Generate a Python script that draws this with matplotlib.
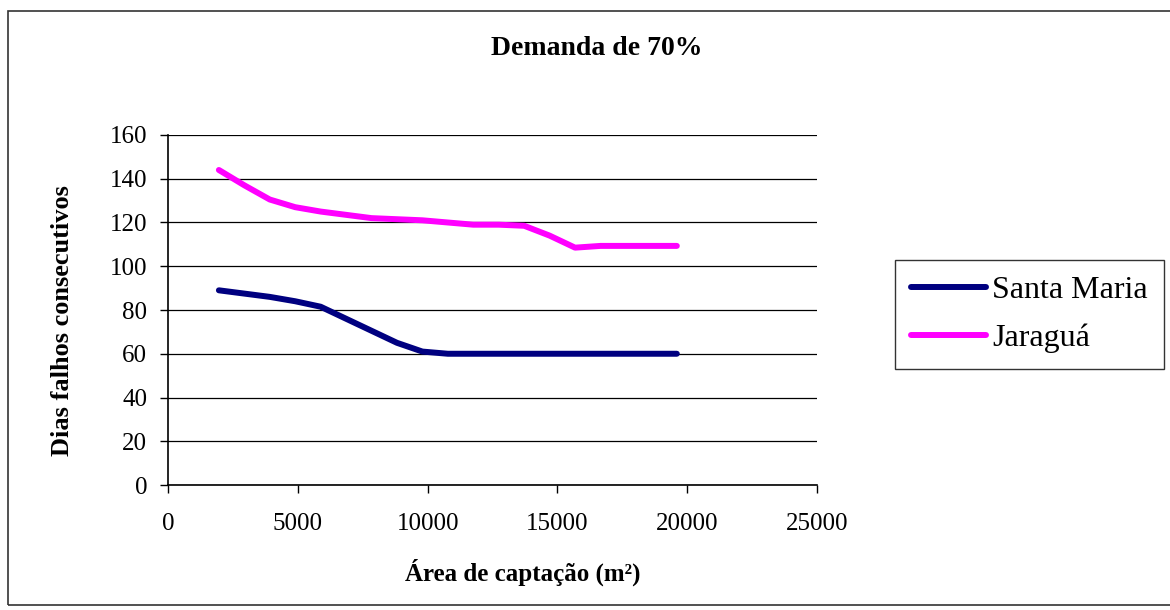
"""Demanda de 70% - dias falhos consecutivos vs area de captacao"""

import matplotlib
matplotlib.use("Agg")
import matplotlib.pyplot as plt
from matplotlib.patches import Rectangle

# data
area = [1960, 2940, 3920, 4900, 5880, 6860, 7840, 8820, 9800, 10780,
        11760, 12740, 13720, 14700, 15680, 16660, 17640, 18620, 19600]
santa_maria = [89, 87.5, 86, 84, 81.5, 76, 70.5, 65, 61, 60,
               60, 60, 60, 60, 60, 60, 60, 60, 60]
jaragua = [144, 137, 130.5, 127, 125, 123.5, 122, 121.5, 121, 120,
           119, 119, 118.5, 114, 108.5, 109.3, 109.3, 109.3, 109.3]
series_names = ["Santa Maria", "Jaraguá"]
x_ticks = [0, 5000, 10000, 15000, 20000, 25000]
y_ticks = [0, 20, 40, 60, 80, 100, 120, 140, 160]

plt.rcParams["font.family"] = ["Liberation Serif", "DejaVu Serif"]

fig = plt.figure(figsize=(11.7, 6.1), dpi=100)
ax = fig.add_axes([0.1436, 0.2049, 0.5547, 0.5738])

ax.plot(area, santa_maria, color="#000080", lw=4.3, solid_capstyle="round",
        solid_joinstyle="round", label=series_names[0])
ax.plot(area, jaragua, color="#FF00FF", lw=4.3, solid_capstyle="round",
        solid_joinstyle="round", label=series_names[1])

ax.set_xlim(0, 25000)
ax.set_ylim(0, 160)
ax.set_xticks(x_ticks)
ax.set_yticks(y_ticks)
ax.tick_params(labelsize=18, direction="out", length=6, width=1)
ax.tick_params(axis="x", pad=14)
ax.tick_params(axis="y", pad=9)
ax.grid(axis="y", color="black", lw=0.9)
ax.set_axisbelow(True)
for side in ("top", "right"):
    ax.spines[side].set_visible(False)
for side in ("left", "bottom"):
    ax.spines[side].set_linewidth(1.2)

fig.text(0.51, 0.921, "Demanda de 70%", ha="center", va="center",
         fontsize=20, fontweight="bold")
fig.text(0.447, 0.062, "Área de captação (m²)", ha="center", va="center",
         fontsize=18, fontweight="bold")
fig.text(0.053, 0.475, "Dias falhos consecutivos", ha="center", va="center",
         rotation=90, fontsize=19, fontweight="bold")

leg = ax.legend(loc="upper left", bbox_to_anchor=(895 / 1170, 1 - 260 / 610),
                bbox_transform=fig.transFigure, fontsize=23, frameon=True,
                fancybox=False, edgecolor="black", handlelength=2.35,
                handletextpad=0.2, borderpad=0.5, labelspacing=0.58,
                borderaxespad=0)
leg.get_frame().set_linewidth(1.0)

# outer chart border
fig.patches.append(Rectangle((8 / 1170, 5 / 610), 1.02, 1 - 16 / 610,
                             transform=fig.transFigure, fill=False,
                             edgecolor="#333333", lw=1.2))

fig.savefig("out.png", dpi=100)
